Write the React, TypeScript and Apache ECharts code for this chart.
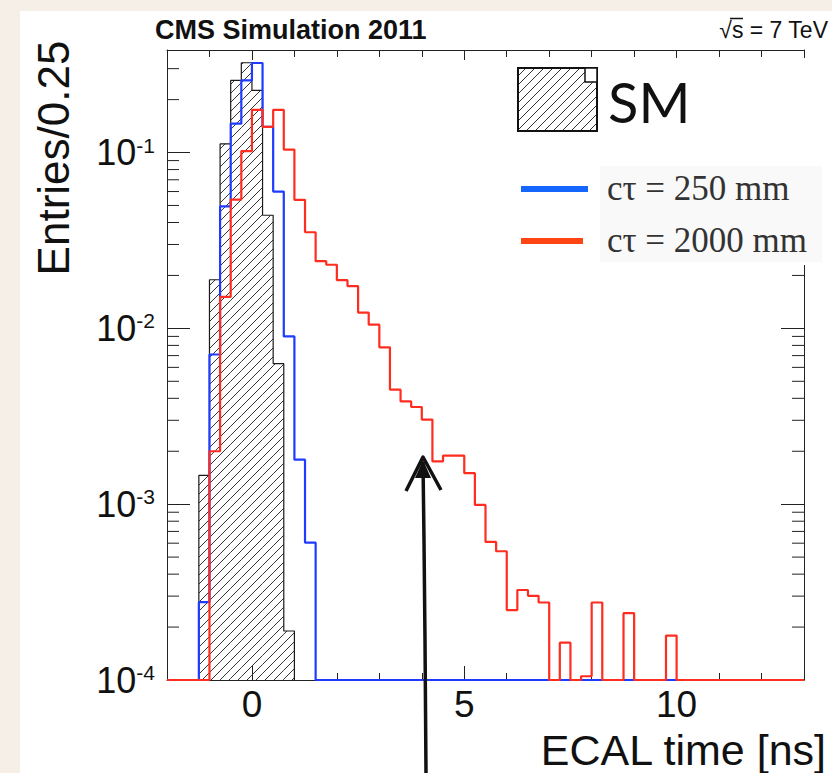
import React, { useEffect, useRef } from "react";
import * as echarts from "echarts";

// ---------- data ----------
const BIN = 0.25;
const X_MIN = -2;
const X_MAX = 13;
const Y_MIN = 1e-4;
const Y_MAX = 0.383;

const xLabelValues = [0, 5, 10];
const xMajorTicks = [0, 5, 10];
const yDecades = [-4, -3, -2, -1];

// SM (hatched), bins of 0.25 ns starting at smStart
const smStart = -1.25;
const smValues = [0.00146, 0.0189, 0.112, 0.257, 0.324, 0.226, 0.044, 0.0063, 0.00019];

// c tau = 250 mm
const blueStart = -1.25;
const blueValues = [0.000277, 0.0071, 0.0494, 0.146, 0.257, 0.323, 0.14, 0.06, 0.009, 0.00179, 0.000604];

// c tau = 2000 mm
const redStart = -1.0;
const redValues = [
  0.002, 0.0151, 0.054, 0.102, 0.175, 0.14, 0.175, 0.104, 0.0538, 0.0352, 0.0241, 0.023,
  0.0188, 0.0174, 0.0123, 0.0105, 0.0078, 0.00448, 0.00384, 0.00357, 0.00303, 0.00175,
  0.00189, 0.00189, 0.0015, 0.00099, 0.00061, 0.00054, 0.00025, 0.000325, 0.000301,
  0.000276, 0, 0.000163, 0, 0.000105, 0.000276, 0, 0, 0.00024, 0, 0, 0, 0.000179,
];

const legendLabels = ["SM", "c\u03c4 = 250 mm", "c\u03c4 = 2000 mm"];

// ---------- styles ----------
const FONT = '"Liberation Sans", Arial, Helvetica, sans-serif';
const SERIF = '"Liberation Serif", "Times New Roman", serif';
const BLUE = "#1f3bff";
const RED = "#ff2d20";
const LEG_BLUE = "#1565ff";
const LEG_RED = "#ff4514";
const AX = "#222";

// ---------- helpers ----------
function fullStep(start: number, values: number[]) {
  const n = Math.round((X_MAX - X_MIN) / BIN);
  const pts: number[][] = [];
  for (let i = 0; i < n; i++) {
    const x = X_MIN + i * BIN;
    const k = Math.round((x - start) / BIN);
    const v = k >= 0 && k < values.length ? values[k] : 0;
    pts.push([x, v > Y_MIN ? v : Y_MIN]);
  }
  pts.push([X_MAX, Y_MIN]);
  return pts;
}

function partialStep(start: number, values: number[]) {
  const pts: number[][] = [[start, Y_MIN]];
  values.forEach((v, i) => pts.push([start + i * BIN, v > Y_MIN ? v : Y_MIN]));
  pts.push([start + values.length * BIN, Y_MIN]);
  return pts;
}

function hatch(x0: number, y0: number, x1: number, y1: number, s: number) {
  const out: { x1: number; y1: number; x2: number; y2: number }[] = [];
  const cStart = Math.ceil((x0 + y0) / s) * s;
  for (let c = cStart; c <= x1 + y1; c += s) {
    const xa = Math.max(x0, c - y1);
    const xb = Math.min(x1, c - y0);
    if (xb > xa) out.push({ x1: xa, y1: c - xa, x2: xb, y2: c - xb });
  }
  return out;
}

const minorTickValues: number[] = [];
yDecades.forEach((d) => {
  for (let k = 2; k <= 9; k++) {
    const v = k * Math.pow(10, d);
    if (v < Y_MAX) minorTickValues.push(v);
  }
});

function txt(x: number, y: number, text: string, size: number, opts: any = {}) {
  const align = opts.align || "left";
  return {
    type: "text",
    x,
    y,
    z: opts.z ?? 60,
    rotation: opts.rotation || 0,
    style: {
      text,
      fontSize: size,
      fontFamily: opts.family || FONT,
      fontWeight: opts.weight || "normal",
      fill: opts.fill || "#111",
      align,
      verticalAlign: "middle",
      textAlign: align,
      textVerticalAlign: "middle",
    },
  };
}

export default function App() {
  const ref = useRef<HTMLDivElement>(null);

  useEffect(() => {
    if (!ref.current) return;
    const chart = echarts.init(ref.current, null, { renderer: "svg" });

    const smBins = smValues.map((v, i) => [smStart + i * BIN, smStart + (i + 1) * BIN, v]);

    const legendHatch = hatch(518, 68, 597, 131, 9).map((l) => ({
      type: "line",
      shape: l,
      style: { stroke: "#333", lineWidth: 1 },
      z: 50,
    }));

    const xAxisBase = {
      type: "value",
      min: X_MIN,
      max: X_MAX,
      splitLine: { show: false },
      axisLine: { show: true, onZero: false, lineStyle: { color: AX, width: 1 } },
    };

    const yAxisBase = {
      type: "log",
      logBase: 10,
      min: Y_MIN,
      max: Y_MAX,
      splitLine: { show: false },
      axisLine: { show: true, onZero: false, lineStyle: { color: AX, width: 1 } },
      axisTick: { show: true, inside: true, length: 23, lineStyle: { color: AX, width: 1 } },
    };

    const option: any = {
      animation: false,
      backgroundColor: "#ffffff",
      grid: { left: 167, right: 28, top: 50, bottom: 93, containLabel: false },
      xAxis: [
        {
          ...xAxisBase,
          position: "bottom",
          interval: 1,
          axisTick: { show: true, inside: true, length: 7, lineStyle: { color: AX } },
          axisLabel: {
            show: true,
            margin: 6,
            fontSize: 37,
            fontFamily: FONT,
            color: "#111",
            formatter: (v: number) => (xLabelValues.indexOf(v) >= 0 ? String(v) : ""),
          },
        },
        {
          ...xAxisBase,
          position: "bottom",
          axisLine: { show: false, onZero: false },
          axisTick: { show: true, inside: true, length: 14, customValues: xMajorTicks, lineStyle: { color: AX } },
          axisLabel: { show: false },
        },
        {
          ...xAxisBase,
          position: "top",
          interval: 1,
          axisTick: { show: true, inside: true, length: 7, lineStyle: { color: AX } },
          axisLabel: { show: false },
        },
        {
          ...xAxisBase,
          position: "top",
          axisLine: { show: false, onZero: false },
          axisTick: { show: true, inside: true, length: 10, customValues: xMajorTicks, lineStyle: { color: AX } },
          axisLabel: { show: false },
        },
      ],
      yAxis: [
        {
          ...yAxisBase,
          position: "left",
          axisLabel: {
            show: true,
            margin: 12,
            formatter: (v: number) => {
              const e = Math.log10(v);
              const r = Math.round(e);
              if (Math.abs(e - r) > 0.01) return "";
              return `{b|10}{e|${r}}`;
            },
            rich: {
              b: { fontSize: 36, lineHeight: 36, fontFamily: FONT, color: "#111", verticalAlign: "bottom" },
              e: { fontSize: 21, lineHeight: 21, fontFamily: FONT, color: "#111", verticalAlign: "top" },
            },
          },
        },
        {
          ...yAxisBase,
          position: "right",
          axisLabel: { show: false },
        },
      ],
      series: [
        {
          type: "custom",
          name: "SM hatch",
          xAxisIndex: 0,
          yAxisIndex: 0,
          silent: true,
          z: 1,
          encode: { x: [0, 1], y: 2 },
          data: smBins,
          renderItem: (params: any, api: any) => {
            const lo = api.value(0);
            const hi = api.value(1);
            const v = api.value(2);
            const p0 = api.coord([lo, v]);
            const p1 = api.coord([hi, Y_MIN]);
            const lines = hatch(p0[0], p0[1], p1[0], p1[1], 9);
            return {
              type: "group",
              children: lines.map((l) => ({
                type: "line",
                shape: l,
                style: { stroke: "#333", lineWidth: 1 },
              })),
            };
          },
        },
        {
          type: "line",
          name: legendLabels[0],
          step: "end",
          xAxisIndex: 0,
          yAxisIndex: 0,
          data: partialStep(smStart, smValues),
          symbol: "none",
          z: 2,
          lineStyle: { color: "#1a1a1a", width: 1.2 },
        },
        {
          type: "line",
          name: legendLabels[1],
          step: "end",
          xAxisIndex: 0,
          yAxisIndex: 0,
          data: fullStep(blueStart, blueValues),
          symbol: "none",
          clip: false,
          z: 3,
          lineStyle: { color: BLUE, width: 2.2 },
        },
        {
          type: "line",
          name: legendLabels[2],
          step: "end",
          xAxisIndex: 0,
          yAxisIndex: 0,
          data: fullStep(redStart, redValues),
          symbol: "none",
          clip: false,
          z: 4,
          lineStyle: { color: RED, width: 2.2 },
        },
        {
          type: "custom",
          name: "minor ticks",
          xAxisIndex: 0,
          yAxisIndex: 0,
          silent: true,
          z: 5,
          encode: { x: 0, y: 1 },
          data: minorTickValues.map((v) => [X_MIN, v]),
          renderItem: (params: any, api: any) => {
            const p = api.coord([X_MIN, api.value(1)]);
            const cs = params.coordSys;
            return {
              type: "group",
              children: [
                { type: "line", shape: { x1: cs.x, y1: p[1], x2: cs.x + 12, y2: p[1] }, style: { stroke: AX, lineWidth: 1 } },
                {
                  type: "line",
                  shape: { x1: cs.x + cs.width - 12, y1: p[1], x2: cs.x + cs.width, y2: p[1] },
                  style: { stroke: AX, lineWidth: 1 },
                },
              ],
            };
          },
        },
      ],
      graphic: [
        // faint slide background strips
        { type: "rect", z: -10, shape: { x: 0, y: 0, width: 20, height: 773 }, style: { fill: "#f6efe7" } },
        { type: "rect", z: -10, shape: { x: 0, y: 0, width: 832, height: 11 }, style: { fill: "#f6efe7" } },
        // title
        txt(155, 30, "CMS Simulation 2011", 27, { weight: "bold" }),
        txt(828, 30, "\u221as = 7 TeV", 23, { align: "right" }),
        { type: "line", z: 60, shape: { x1: 730, y1: 18.5, x2: 743, y2: 18.5 }, style: { stroke: "#111", lineWidth: 1.5 } },
        // axis titles
        txt(53, 158, "Entries/0.25", 44, { align: "center", rotation: Math.PI / 2 }),
        txt(826, 750, "ECAL time [ns]", 43, { align: "right" }),
        // legend panel (covers the frame like the pasted legend in the reference)
        { type: "rect", z: 30, shape: { x: 505, y: 58, width: 322, height: 207 }, style: { fill: "#ffffff" } },
        { type: "rect", z: 31, shape: { x: 600, y: 166, width: 222, height: 96 }, style: { fill: "#f9f9f9" } },
        { type: "rect", z: 40, shape: { x: 518, y: 68, width: 79, height: 63 }, style: { fill: "#fff" } },
        ...legendHatch,
        { type: "rect", z: 60, shape: { x: 518, y: 68, width: 79, height: 63 }, style: { fill: "none", stroke: "#111", lineWidth: 2 } },
        { type: "rect", z: 61, shape: { x: 585, y: 68, width: 12, height: 14 }, style: { fill: "#fff", stroke: "#111", lineWidth: 1.5 } },
        txt(608, 101, legendLabels[0], 56, { family: "Lato, 'Open Sans', sans-serif" }),
        { type: "rect", z: 60, shape: { x: 521, y: 186, width: 67, height: 6 }, style: { fill: LEG_BLUE } },
        { type: "rect", z: 60, shape: { x: 521, y: 238, width: 62, height: 6 }, style: { fill: LEG_RED } },
        txt(607, 188, legendLabels[1], 35, { family: SERIF, fill: "#333" }),
        txt(607, 240, legendLabels[2], 35, { family: SERIF, fill: "#333" }),
        // hand-drawn arrow
        {
          type: "polyline",
          z: 100,
          shape: { points: [[426, 773], [425, 640], [424, 540], [423, 462]] },
          style: { stroke: "#111", lineWidth: 3.5, fill: null },
        },
        {
          type: "polyline",
          z: 100,
          shape: { points: [[406, 491], [423, 457], [441, 490]] },
          style: { stroke: "#111", lineWidth: 3.5, fill: null, lineJoin: "round" },
        },
        {
          type: "polygon",
          z: 100,
          shape: { points: [[415, 478], [423, 460], [431, 478]] },
          style: { fill: "#111" },
        },
      ],
    };

    chart.setOption(option);
    return () => chart.dispose();
  }, []);

  return <div ref={ref} style={{ position: "fixed", left: 0, top: 0, width: 832, height: 773 }} />;
}
